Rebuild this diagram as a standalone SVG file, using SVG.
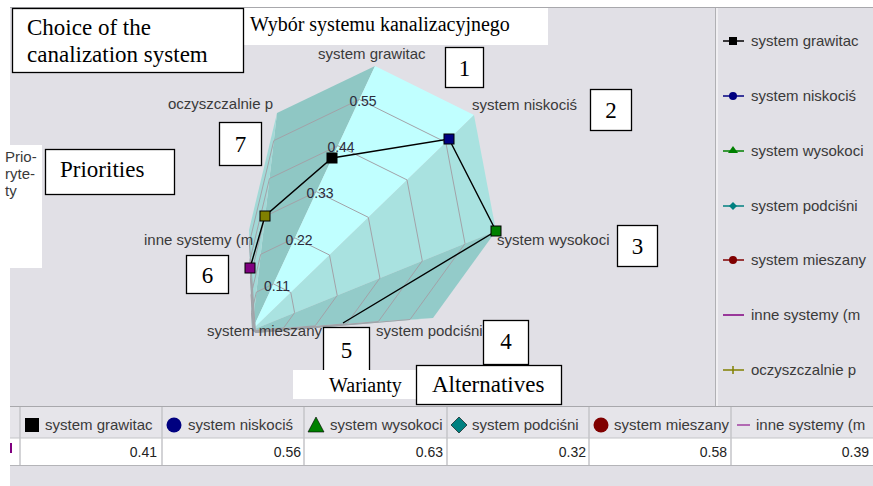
<svg xmlns="http://www.w3.org/2000/svg" width="873" height="486" viewBox="0 0 873 486">
  <style>
    .lbl { font-family: "Liberation Sans", Arial, sans-serif; font-size: 15px; fill: #3a3a3a; }
    .val { font-family: "Liberation Sans", Arial, sans-serif; font-size: 14px; fill: #2c2c3c; }
    .cell { font-family: "Liberation Sans", Arial, sans-serif; font-size: 14px; fill: #222; }
    .serif { font-family: "Liberation Serif", "Times New Roman", serif; fill: #000; }
    .box { fill: #fff; stroke: #000; stroke-width: 1.3; }
    .ring { fill: none; stroke: #a2a2a8; stroke-width: 1; }
    .series { fill: none; stroke: #000; stroke-width: 1.4; }
    .mk { stroke: #000; stroke-width: 1; }
    .colsep { stroke: #c4c4c8; stroke-width: 1.5; }
  </style>

  <!-- panel background -->
  <rect x="0" y="0" width="873" height="486" fill="#e1e0e6"/>
  <rect x="0" y="0" width="873" height="7" fill="#fff"/>
  <rect x="0" y="0" width="10" height="486" fill="#fff"/>
  <line x1="10" y1="7.5" x2="873" y2="7.5" stroke="#a8a8ac"/>
  <line x1="715.5" y1="8" x2="715.5" y2="406" stroke="#b0b0b4"/>
  <line x1="717" y1="8" x2="717" y2="406" stroke="#f4f4f6" stroke-width="1.5"/>

  <!-- 3D radar surface: faces from the centre apex (252,330) -->
  <g id="radar-surface">
    <polygon points="252,330 277,113 375,66" fill="#8fc7c4"/>
    <polygon points="252,330 375,66 474,115" fill="#c0ffff"/>
    <polygon points="252,330 474,115 496,231" fill="#a9e2e0"/>
    <polygon points="252,330 496,231 433,318" fill="#93cbc9"/>
    <polygon points="252,330 433,318 256,333" fill="#9bd2d0"/>
    <polygon points="252,330 256,333 249,230" fill="#a6dcda"/>
    <polygon points="252,330 249,230 277,113" fill="#a2d9d7"/>
  </g>

  <!-- grid rings -->
  <g id="radar-grid">
    <polygon class="ring" points="273.5,283.9 290.8,292.5 294.6,312.7 283.6,327.9 252.7,330.5 251.5,312.5 256.4,292.1"/>
    <polygon class="ring" points="294.9,237.9 329.5,255.0 337.2,295.4 315.2,325.8 253.4,331.0 251.0,295.1 260.7,254.3"/>
    <polygon class="ring" points="316.5,191.7 368.3,217.3 379.9,278.1 346.8,323.7 254.1,331.6 250.4,277.6 265.1,216.3"/>
    <polygon class="ring" points="337.9,145.7 407.0,179.9 422.3,260.9 378.3,321.6 254.8,332.1 249.9,260.2 269.5,178.5"/>
    <polygon class="ring" points="359.4,99.5 445.8,142.3 465.0,243.6 410.0,319.5 255.5,332.6 249.4,242.7 273.8,140.6"/>
  </g>

  <!-- scale values -->
  <g id="radar-scale" text-anchor="middle">
    <text class="val" x="363" y="106">0.55</text>
    <text class="val" x="341" y="152">0.44</text>
    <text class="val" x="320" y="198">0.33</text>
    <text class="val" x="299" y="245">0.22</text>
    <text class="val" x="277" y="291">0.11</text>
  </g>

  <!-- axis labels -->
  <g id="axis-labels">
    <text class="lbl" x="318" y="59">system grawitac</text>
    <text class="lbl" x="472" y="110">system niskociś</text>
    <text class="lbl" x="497" y="245">system wysokoci</text>
    <text class="lbl" x="376" y="336">system podciśni</text>
    <text class="lbl" x="207" y="336">system mieszany</text>
    <text class="lbl" x="144" y="245">inne systemy (m</text>
    <text class="lbl" x="168" y="109">oczyszczalnie p</text>
  </g>

  <!-- data series -->
  <g id="connectors">
    <polyline class="series" points="250,268 265,216 332,158 449,139 496,231 343,323"/>
  </g>
  <g id="series-markers">
    <rect class="mk" x="327" y="153" width="10" height="10" fill="#000"/>
    <rect class="mk" x="444" y="134" width="10" height="10" fill="#000080"/>
    <rect class="mk" x="491" y="226" width="10" height="10" fill="#008000"/>
    <rect class="mk" x="245" y="263" width="10" height="10" fill="#800080"/>
    <rect class="mk" x="260" y="211" width="10" height="10" fill="#808000"/>
  </g>

  <!-- annotation boxes -->
  <g id="title">
    <rect x="244" y="8" width="304" height="37" fill="#fff"/>
    <text class="serif" x="250" y="31" font-size="20">Wybór systemu kanalizacyjnego</text>
  </g>
  <g id="choice-box">
    <rect class="box" x="12.5" y="8.5" width="231" height="64"/>
    <text class="serif" x="27" y="35" font-size="23">Choice of the</text>
    <text class="serif" x="27" y="62" font-size="23">canalization system</text>
  </g>
  <g id="priorytety">
    <rect x="0" y="145" width="42" height="123" fill="#fff"/>
    <text class="lbl" x="5" y="162" fill="#111">Prio-</text>
    <text class="lbl" x="5" y="179" fill="#111">ryte-</text>
    <text class="lbl" x="5" y="196" fill="#111">ty</text>
  </g>
  <g id="priorities-box">
    <rect class="box" x="45.5" y="149.5" width="129" height="45"/>
    <text class="serif" x="60" y="177" font-size="23">Priorities</text>
  </g>
  <g id="num-1"><rect class="box" x="445.5" y="47.5" width="38" height="40"/><text class="serif" x="464.5" y="76" font-size="23" text-anchor="middle">1</text></g>
  <g id="num-2"><rect class="box" x="590.5" y="89.5" width="41" height="41"/><text class="serif" x="611" y="118" font-size="23" text-anchor="middle">2</text></g>
  <g id="num-3"><rect class="box" x="617.5" y="225.5" width="40" height="41"/><text class="serif" x="637.5" y="254" font-size="23" text-anchor="middle">3</text></g>
  <g id="num-4"><rect class="box" x="483.5" y="320.5" width="45" height="44"/><text class="serif" x="506" y="349" font-size="23" text-anchor="middle">4</text></g>
  <g id="num-5"><rect class="box" x="323.5" y="327.5" width="46" height="45"/><text class="serif" x="346.5" y="358" font-size="23" text-anchor="middle">5</text></g>
  <g id="num-6"><rect class="box" x="186.5" y="255.5" width="42" height="38"/><text class="serif" x="207.5" y="283" font-size="23" text-anchor="middle">6</text></g>
  <g id="num-7"><rect class="box" x="219.5" y="122.5" width="42" height="43"/><text class="serif" x="240.5" y="152" font-size="23" text-anchor="middle">7</text></g>
  <g id="warianty">
    <rect x="293" y="370" width="130" height="29" fill="#fff"/>
    <text class="serif" x="329" y="392" font-size="20" fill="#1a1a1a">Warianty</text>
  </g>
  <g id="alternatives-box">
    <rect class="box" x="416.5" y="365.5" width="145" height="39"/>
    <text class="serif" x="432" y="392" font-size="23">Alternatives</text>
  </g>

  <!-- legend -->
  <g id="legend">
    <g id="leg-grawitac">
      <line x1="723" y1="41" x2="744" y2="41" stroke="#000" stroke-width="1.5"/>
      <rect x="729" y="37" width="8" height="8" fill="#000"/>
      <text class="lbl" x="751" y="46">system grawitac</text>
    </g>
    <g id="leg-niskocis">
      <line x1="723" y1="96" x2="744" y2="96" stroke="#000080" stroke-width="1.5"/>
      <circle cx="733" cy="96" r="4" fill="#000080"/>
      <text class="lbl" x="751" y="101">system niskociś</text>
    </g>
    <g id="leg-wysokoci">
      <line x1="723" y1="151" x2="744" y2="151" stroke="#008000" stroke-width="1.5"/>
      <polygon points="733,146 738,153 728,153" fill="#008000"/>
      <text class="lbl" x="751" y="156">system wysokoci</text>
    </g>
    <g id="leg-podcisni">
      <line x1="723" y1="206" x2="744" y2="206" stroke="#008080" stroke-width="1.5"/>
      <polygon points="733,202 737,206 733,210 729,206" fill="#008080"/>
      <text class="lbl" x="751" y="211">system podciśni</text>
    </g>
    <g id="leg-mieszany">
      <line x1="723" y1="260" x2="744" y2="260" stroke="#800000" stroke-width="1.5"/>
      <circle cx="733" cy="260" r="4" fill="#800000"/>
      <text class="lbl" x="751" y="265">system mieszany</text>
    </g>
    <g id="leg-inne">
      <line x1="723" y1="315" x2="744" y2="315" stroke="#800080" stroke-width="1.5"/>
      <text class="lbl" x="751" y="320">inne systemy (m</text>
    </g>
    <g id="leg-oczyszczalnie">
      <line x1="723" y1="370" x2="744" y2="370" stroke="#808000" stroke-width="1.5"/>
      <line x1="733" y1="366" x2="733" y2="374" stroke="#808000" stroke-width="1.5"/>
      <text class="lbl" x="751" y="375">oczyszczalnie p</text>
    </g>
  </g>

  <!-- data table -->
  <g id="table">
    <rect x="10" y="407" width="863" height="31" fill="#e6e5ea"/>
    <rect x="10" y="438" width="863" height="27" fill="#fff"/>
    <line x1="10" y1="406.5" x2="873" y2="406.5" stroke="#a8a8ac"/>
    <line x1="10" y1="438" x2="873" y2="438" stroke="#c4c4c8"/>
    <line x1="10" y1="465.5" x2="873" y2="465.5" stroke="#b4b4b8"/>
    <line class="colsep" x1="20" y1="407" x2="20" y2="465"/>
    <line class="colsep" x1="162" y1="407" x2="162" y2="465"/>
    <line class="colsep" x1="304" y1="407" x2="304" y2="465"/>
    <line class="colsep" x1="447" y1="407" x2="447" y2="465"/>
    <line class="colsep" x1="589" y1="407" x2="589" y2="465"/>
    <line class="colsep" x1="731" y1="407" x2="731" y2="465"/>
    <line x1="11" y1="443" x2="11" y2="453" stroke="#800080" stroke-width="2"/>

    <rect x="25" y="418" width="14" height="14" fill="#000"/>
    <text class="lbl" x="45" y="430">system grawitac</text>
    <circle cx="174" cy="425" r="7.5" fill="#000080"/>
    <text class="lbl" x="188" y="430">system niskociś</text>
    <polygon points="316,417 324,432 308,432" fill="#008000" stroke="#000" stroke-width="0.6"/>
    <text class="lbl" x="330" y="430">system wysokoci</text>
    <polygon points="459,417 467,425 459,433 451,425" fill="#008080" stroke="#000" stroke-width="0.6"/>
    <text class="lbl" x="472" y="430">system podciśni</text>
    <circle cx="601" cy="425" r="7.5" fill="#800000"/>
    <text class="lbl" x="614" y="430">system mieszany</text>
    <line x1="737" y1="425" x2="750" y2="425" stroke="#a040a0" stroke-width="1.5"/>
    <text class="lbl" x="756" y="430">inne systemy (m</text>

    <g text-anchor="end">
      <text class="cell" x="157" y="457">0.41</text>
      <text class="cell" x="301" y="457">0.56</text>
      <text class="cell" x="443" y="457">0.63</text>
      <text class="cell" x="586" y="457">0.32</text>
      <text class="cell" x="727" y="457">0.58</text>
      <text class="cell" x="869" y="457">0.39</text>
    </g>
  </g>
</svg>
